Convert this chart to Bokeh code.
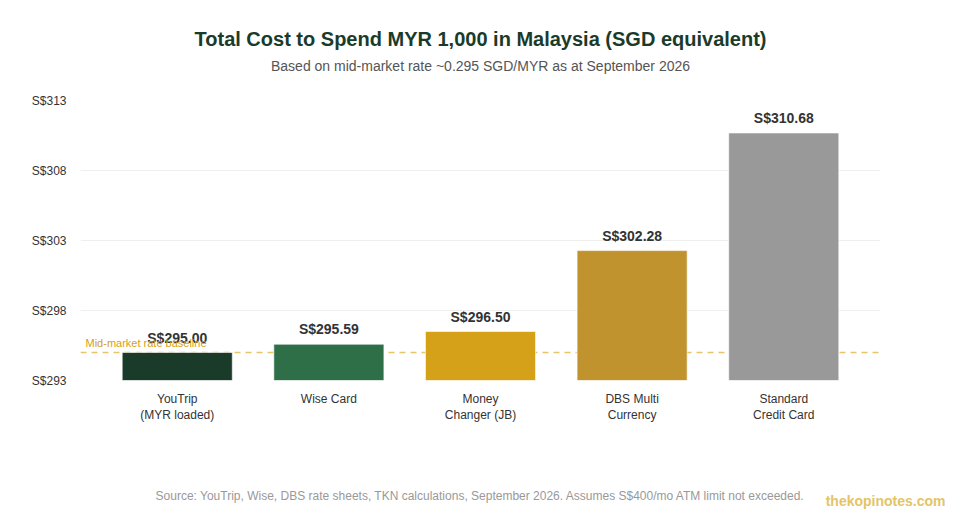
from bokeh.plotting import figure
from bokeh.models import ColumnDataSource, Label, Span, FixedTicker, FactorRange
from bokeh.layouts import column
from bokeh.embed import file_html
from bokeh.resources import INLINE
from bokeh.core.properties import value

categories = ["YouTrip\n(MYR loaded)", "Wise Card", "Money\nChanger (JB)", "DBS Multi\nCurrency", "Standard\nCredit Card"]
costs = [295.00, 295.59, 296.50, 302.28, 310.68]
cost_labels = ["S$295.00", "S$295.59", "S$296.50", "S$302.28", "S$310.68"]
bar_colors = ["#1b3b2a", "#2e6f48", "#d4a119", "#c0932e", "#999999"]
y_ticks = [293, 298, 303, 308, 313]
y_tick_labels = ["S$293", "S$298", "S$303", "S$308", "S$313"]
baseline = 295.0
title_text = "Total Cost to Spend MYR 1,000 in Malaysia (SGD equivalent)"
subtitle_text = "Based on mid-market rate ~0.295 SGD/MYR as at September 2026"
source_text = "Source: YouTrip, Wise, DBS rate sheets, TKN calculations, September 2026. Assumes S$400/mo ATM limit not exceeded."
brand_text = "thekopinotes.com"

FONT = "Liberation Sans"
W = 952


def blank(h):
    f = figure(width=W, height=h, x_range=(0, W), y_range=(0, h), x_axis_type=None, y_axis_type=None,
               output_backend="svg", toolbar_location=None, min_border=0)
    f.outline_line_color = None
    f.xgrid.visible = False
    f.ygrid.visible = False
    f.frame_align = False
    return f


# header
head = blank(90)
head.text(x=[480], y=[52], text=[title_text], text_align="center", text_baseline="middle",
          text_font=value(FONT), text_font_size="20px", text_font_style="bold", text_color="#1b3b2a")
head.text(x=[480], y=[25], text=[subtitle_text], text_align="center", text_baseline="middle",
          text_font=value(FONT), text_font_size="14px", text_color="#555555")

# main chart
src = ColumnDataSource(dict(cat=categories, cost=costs, label=cost_labels, color=bar_colors))

p = figure(width=W, height=370, x_range=FactorRange(*categories, range_padding=0.138, range_padding_units="absolute"),
           y_range=(293, 313), output_backend="svg", toolbar_location=None,
           min_border_left=80, min_border_right=72, min_border_top=10, min_border_bottom=80)
p.outline_line_color = None
p.xgrid.grid_line_color = None
p.ygrid.grid_line_color = "#efefef"
p.ygrid.grid_line_width = 1

p.yaxis.ticker = FixedTicker(ticks=y_ticks)
p.yaxis.major_label_overrides = {t: l for t, l in zip(y_ticks, y_tick_labels)}
for ax in (p.xaxis, p.yaxis):
    ax.axis_line_color = None
    ax.major_tick_line_color = None
    ax.minor_tick_line_color = None
    ax.major_label_text_font = FONT
    ax.major_label_text_font_size = "12px"
    ax.major_label_text_color = "#333333"
p.yaxis.major_label_standoff = 8
p.xaxis.major_label_standoff = 5
p.xaxis.major_label_text_line_height = 1.15

span = Span(location=baseline, dimension="width", line_color="#e8c46a", line_width=1.5, line_dash="6 5", level="underlay")
p.add_layout(span)

p.vbar(x="cat", top="cost", bottom=293, width=0.726, fill_color="color", line_color="white", line_alpha=0.6,
       line_width=1, source=src)

p.text(x="cat", y="cost", text="label", y_offset=-7, text_align="center", text_baseline="bottom",
       text_font=value(FONT), text_font_size="14px", text_font_style="bold", text_color="#333333", source=src)

p.add_layout(Label(x=5, y=baseline, x_units="screen", y_offset=4, text="Mid-market rate baseline",
                   text_font=FONT, text_font_size="11px", text_color="#d4a017", text_baseline="bottom"))

# footer
foot = blank(52)
foot.text(x=[480], y=[17], text=[source_text], text_align="center", text_baseline="middle",
          text_font=value(FONT), text_font_size="12px", text_color="#999999")
foot.text(x=[945], y=[12], text=[brand_text], text_align="right", text_baseline="middle",
          text_font=value(FONT), text_font_size="14px", text_font_style="bold", text_color="#e3c467")

layout = column(head, p, foot, spacing=0)
open("out.html", "w").write(file_html(layout, INLINE))
